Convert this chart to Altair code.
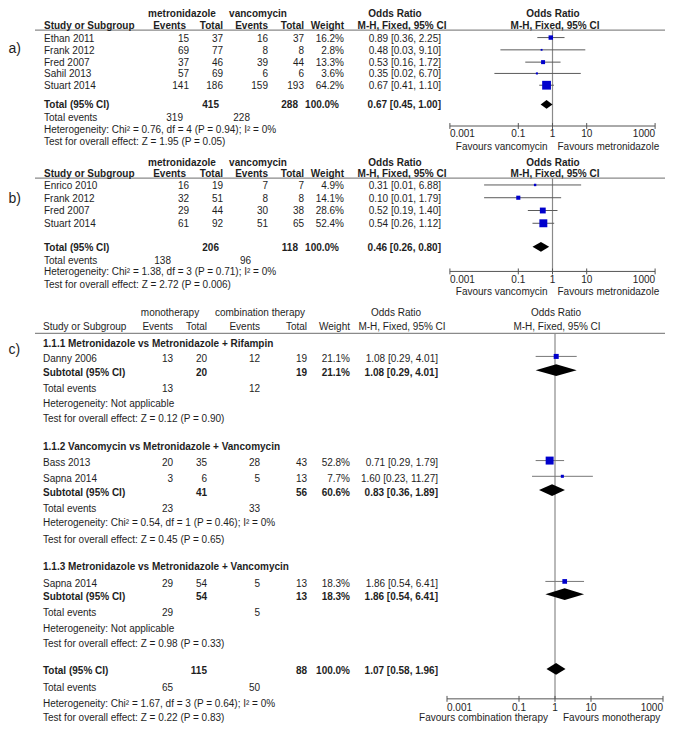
import altair as alt
import pandas as pd

# ---------------- data ----------------
# (a) metronidazole vs vancomycin
a_study = ["Ethan 2011", "Frank 2012", "Fred 2007", "Sahil 2013", "Stuart 2014"]
a_ev_m = [15, 69, 37, 57, 141]
a_n_m = [37, 77, 46, 69, 186]
a_ev_v = [16, 8, 39, 6, 159]
a_n_v = [37, 8, 44, 6, 193]
a_weight = [16.2, 2.8, 13.3, 3.6, 64.2]
a_or = [0.89, 0.48, 0.53, 0.35, 0.67]
a_lo = [0.36, 0.03, 0.16, 0.02, 0.41]
a_hi = [2.25, 9.10, 1.72, 6.70, 1.10]
a_total_n = [415, 288]
a_total_ev = [319, 228]
a_total_or = [0.67, 0.45, 1.00]
a_het = "Heterogeneity: Chi² = 0.76, df = 4 (P = 0.94); I² = 0%"
a_test = "Test for overall effect: Z = 1.95 (P = 0.05)"

# (b) metronidazole vs vancomycin
b_study = ["Enrico 2010", "Frank 2012", "Fred 2007", "Stuart 2014"]
b_ev_m = [16, 32, 29, 61]
b_n_m = [19, 51, 44, 92]
b_ev_v = [7, 8, 30, 51]
b_n_v = [7, 8, 38, 65]
b_weight = [4.9, 14.1, 28.6, 52.4]
b_or = [0.31, 0.10, 0.52, 0.54]
b_lo = [0.01, 0.01, 0.19, 0.26]
b_hi = [6.88, 1.79, 1.40, 1.12]
b_total_n = [206, 118]
b_total_ev = [138, 96]
b_total_or = [0.46, 0.26, 0.80]
b_het = "Heterogeneity: Chi² = 1.38, df = 3 (P = 0.71); I² = 0%"
b_test = "Test for overall effect: Z = 2.72 (P = 0.006)"

# (c) monotherapy vs combination therapy
c_groups = ["1.1.1 Metronidazole vs Metronidazole + Rifampin",
            "1.1.2 Vancomycin vs Metronidazole + Vancomycin",
            "1.1.3 Metronidazole vs Metronidazole + Vancomycin"]
c_study = [["Danny 2006"], ["Bass 2013", "Sapna 2014"], ["Sapna 2014"]]
c_ev_mono = [[13], [20, 3], [29]]
c_n_mono = [[20], [35, 6], [54]]
c_ev_comb = [[12], [28, 5], [5]]
c_n_comb = [[19], [43, 13], [13]]
c_weight = [[21.1], [52.8, 7.7], [18.3]]
c_or = [[1.08], [0.71, 1.60], [1.86]]
c_lo = [[0.29], [0.29, 0.23], [0.54]]
c_hi = [[4.01], [1.79, 11.27], [6.41]]
c_sub_n = [[20, 19], [41, 56], [54, 13]]
c_sub_w = [21.1, 60.6, 18.3]
c_sub_or = [[1.08, 0.29, 4.01], [0.83, 0.36, 1.89], [1.86, 0.54, 6.41]]
c_sub_ev = [[13, 12], [23, 33], [29, 5]]
c_sub_het = ["Heterogeneity: Not applicable",
             "Heterogeneity: Chi² = 0.54, df = 1 (P = 0.46); I² = 0%",
             "Heterogeneity: Not applicable"]
c_sub_test = ["Test for overall effect: Z = 0.12 (P = 0.90)",
              "Test for overall effect: Z = 0.45 (P = 0.65)",
              "Test for overall effect: Z = 0.98 (P = 0.33)"]
c_total_n = [115, 88]
c_total_ev = [65, 50]
c_total_or = [1.07, 0.58, 1.96]
c_het = "Heterogeneity: Chi² = 1.67, df = 3 (P = 0.64); I² = 0%"
c_test = "Test for overall effect: Z = 0.22 (P = 0.83)"

axis_ticks = [0.001, 0.1, 1, 10, 1000]
axis_labels = ["0.001", "0.1", "1", "10", "1000"]

# ---------------- layout / style ----------------
W, H = 657, 715
Y_SCALE = alt.Scale(domain=[0.91, 728.57], reverse=True, nice=False, zero=False)
X_PX = alt.Scale(domain=[8, 665], nice=False, zero=False)


def log_scale(one_px, decade_px):
    lo = (8 - one_px) / decade_px
    hi = (665 - one_px) / decade_px
    return alt.Scale(type="log", domain=[10 ** lo, 10 ** hi], nice=False)


X_AB = log_scale(552.5, 34.2)
X_C = log_scale(555.0, 36.0)

FONT_AB = "Liberation Sans, Arial, sans-serif"
FONT_C = "Liberation Sans, Arial, sans-serif"
TXT = "#1e1e1e"
BLUE = "#0000cc"
GREY = "#8a8a8a"
CI_COL = "#5a5a5a"

texts_px = []
texts_ab = []
texts_c = []


def put(store, x, y, text, align="left", bold=False, fam=FONT_AB, size=10, dx=0):
    store.append(dict(x=x, y=y, text=str(text), align=align, bold=bold,
                      fam=fam, size=size, dx=dx))


def fmt_or(v):
    return f"{v[0]:.2f} [{v[1]:.2f}, {v[2]:.2f}]"


rules_px = []       # header rules
studies_ab, diam_ab, vline_ab, axis_ab = [], [], [], []
studies_c, diam_c, vline_c, axis_c = [], [], [], []

COL_AB = dict(name=44, ev1=189, n1=223, ev2=268, n2=304, w=344, orr=441,
              g1=182, g2=258, or1=395, mh1=402, or2=553, mh2=555)
COL_C = dict(name=43, ev1=173, n1=207, ev2=260, n2=307, w=350, orr=438,
             g1=170, g2=260, or1=396, mh1=402, or2=556, mh2=557)


def panel_ab(tag, study, ev_m, n_m, ev_v, n_v, weight, orr, lo, hi,
             total_n, total_ev, total_or, het, test, L):
    c = COL_AB
    put(texts_px, 8.5, L["label"], tag, size=14)
    put(texts_px, c["g1"], L["h1"], "metronidazole", "center", True)
    put(texts_px, c["g2"], L["h1"], "vancomycin", "center", True)
    put(texts_px, c["or1"], L["h1"], "Odds Ratio", "center", True)
    put(texts_px, c["or2"], L["h1"], "Odds Ratio", "center", True)
    put(texts_px, c["name"], L["h2"], "Study or Subgroup", "left", True)
    put(texts_px, c["ev1"] - 3, L["h2"], "Events", "right", True)
    put(texts_px, c["n1"], L["h2"], "Total", "right", True)
    put(texts_px, c["ev2"], L["h2"], "Events", "right", True)
    put(texts_px, c["n2"], L["h2"], "Total", "right", True)
    put(texts_px, c["w"], L["h2"], "Weight", "right", True)
    put(texts_px, c["mh1"], L["h2"], "M-H, Fixed, 95% CI", "center", True)
    put(texts_px, c["mh2"], L["h2"], "M-H, Fixed, 95% CI", "center", True)
    rules_px.append(dict(x=35, x2=665, y=L["rule"]))
    for i, s in enumerate(study):
        y = L["rows"][i]
        put(texts_px, c["name"], y, s)
        put(texts_px, c["ev1"], y, ev_m[i], "right")
        put(texts_px, c["n1"], y, n_m[i], "right")
        put(texts_px, c["ev2"], y, ev_v[i], "right")
        put(texts_px, c["n2"], y, n_v[i], "right")
        put(texts_px, c["w"], y, f"{weight[i]:.1f}%", "right")
        put(texts_px, c["orr"], y, fmt_or([orr[i], lo[i], hi[i]]), "right")
        studies_ab.append(dict(y=y - 1, orr=orr[i], lo=lo[i], hi=hi[i], w=weight[i]))
    y = L["total"]
    put(texts_px, c["name"], y, "Total (95% CI)", "left", True)
    put(texts_px, c["n1"] - 4, y, total_n[0], "right", True)
    put(texts_px, c["n2"] - 6, y, total_n[1], "right", True)
    put(texts_px, c["w"] - 5, y, "100.0%", "right", True)
    put(texts_px, c["orr"], y, fmt_or(total_or), "right", True)
    h = L["dh"]
    yc = y - 1
    did = tag
    diam_ab.extend([
        dict(id=did, x=total_or[1], top=yc, bot=yc),
        dict(id=did, x=total_or[0], top=yc - h, bot=yc + h),
        dict(id=did, x=total_or[2], top=yc, bot=yc),
    ])
    put(texts_px, c["name"], L["tev"], "Total events")
    put(texts_px, L["tevx"][0], L["tev"], total_ev[0], "right")
    put(texts_px, L["tevx"][1], L["tev"], total_ev[1], "right")
    put(texts_px, c["name"], L["het"], het)
    put(texts_px, c["name"], L["test"], test)
    vline_ab.append(dict(one=1, y=L["rule"], y2=L["axis"]))
    axis_ab.append(dict(axis=L["axis"], lab=L["ticklab"], fav=L["fav"]))
    for t, lab in zip(axis_ticks, axis_labels):
        al = "left" if t == axis_ticks[0] else ("right" if t == axis_ticks[-1] else "center")
        put(texts_ab, t, L["ticklab"], lab, al)
    put(texts_ab, 1, L["fav"], "Favours vancomycin", "right", dx=-5)
    put(texts_ab, 1, L["fav"], "Favours metronidazole", "left", dx=5)


LA = dict(label=43, h1=7, h2=19.5, rule=23.5, rows=[32, 44.5, 57, 68.5, 80.5],
          total=100, tev=113, tevx=[183, 250], het=125, test=137, axis=121,
          ticklab=129, fav=142, dh=4.5)
LB = dict(label=195, h1=159, h2=170, rule=174, rows=[182, 195, 208, 221],
          total=245, tev=258, tevx=[171, 251], het=270, test=283, axis=269,
          ticklab=278, fav=290, dh=5)

panel_ab("a)", a_study, a_ev_m, a_n_m, a_ev_v, a_n_v, a_weight, a_or, a_lo, a_hi,
         a_total_n, a_total_ev, a_total_or, a_het, a_test, LA)
panel_ab("b)", b_study, b_ev_m, b_n_m, b_ev_v, b_n_v, b_weight, b_or, b_lo, b_hi,
         b_total_n, b_total_ev, b_total_or, b_het, b_test, LB)

# ---- panel c
LC = dict(label=349, h1=311, h2=326, rule=332, grp=[343, 448, 570],
          rows=[[358], [464, 480], [587]], sub=[372, 494, 600], tev=[389, 511, 617],
          het=[404, 525, 633], test=[419, 542, 648], total=676, ttev=693, thet=709,
          ttest=723, axis=704, ticklab=713, fav=723.5, dh=6)
cc = COL_C
FC = FONT_C
SC = 10
put(texts_px, 8.5, LC["label"], "c)", size=14)
put(texts_px, cc["g1"], LC["h1"], "monotherapy", "center", fam=FC, size=SC)
put(texts_px, cc["g2"], LC["h1"], "combination therapy", "center", fam=FC, size=SC)
put(texts_px, cc["or1"], LC["h1"], "Odds Ratio", "center", fam=FC, size=SC)
put(texts_px, cc["or2"], LC["h1"], "Odds Ratio", "center", fam=FC, size=SC)
put(texts_px, cc["name"], LC["h2"], "Study or Subgroup", fam=FC, size=SC)
put(texts_px, cc["ev1"], LC["h2"], "Events", "right", fam=FC, size=SC)
put(texts_px, cc["n1"], LC["h2"], "Total", "right", fam=FC, size=SC)
put(texts_px, cc["ev2"], LC["h2"], "Events", "right", fam=FC, size=SC)
put(texts_px, cc["n2"], LC["h2"], "Total", "right", fam=FC, size=SC)
put(texts_px, cc["w"], LC["h2"], "Weight", "right", fam=FC, size=SC)
put(texts_px, cc["mh1"], LC["h2"], "M-H, Fixed, 95% CI", "center", fam=FC, size=SC)
put(texts_px, cc["mh2"], LC["h2"], "M-H, Fixed, 95% CI", "center", fam=FC, size=SC)
rules_px.append(dict(x=35, x2=665, y=LC["rule"]))

for g, gname in enumerate(c_groups):
    put(texts_px, cc["name"], LC["grp"][g], gname, bold=True, fam=FC, size=SC)
    for i, s in enumerate(c_study[g]):
        y = LC["rows"][g][i]
        put(texts_px, cc["name"], y, s, fam=FC, size=SC)
        put(texts_px, cc["ev1"], y, c_ev_mono[g][i], "right", fam=FC, size=SC)
        put(texts_px, cc["n1"], y, c_n_mono[g][i], "right", fam=FC, size=SC)
        put(texts_px, cc["ev2"], y, c_ev_comb[g][i], "right", fam=FC, size=SC)
        put(texts_px, cc["n2"], y, c_n_comb[g][i], "right", fam=FC, size=SC)
        put(texts_px, cc["w"], y, f"{c_weight[g][i]:.1f}%", "right", fam=FC, size=SC)
        put(texts_px, cc["orr"], y, fmt_or([c_or[g][i], c_lo[g][i], c_hi[g][i]]), "right", fam=FC, size=SC)
        studies_c.append(dict(y=y - 2.5, orr=c_or[g][i], lo=c_lo[g][i], hi=c_hi[g][i], w=c_weight[g][i]))
    y = LC["sub"][g]
    put(texts_px, cc["name"], y, "Subtotal (95% CI)", bold=True, fam=FC, size=SC)
    put(texts_px, cc["n1"], y, c_sub_n[g][0], "right", True, fam=FC, size=SC)
    put(texts_px, cc["n2"], y, c_sub_n[g][1], "right", True, fam=FC, size=SC)
    put(texts_px, cc["w"], y, f"{c_sub_w[g]:.1f}%", "right", True, fam=FC, size=SC)
    put(texts_px, cc["orr"], y, fmt_or(c_sub_or[g]), "right", True, fam=FC, size=SC)
    yc = y - 2.5
    h = LC["dh"]
    diam_c.extend([
        dict(id=f"s{g}", x=c_sub_or[g][1], top=yc, bot=yc),
        dict(id=f"s{g}", x=c_sub_or[g][0], top=yc - h, bot=yc + h),
        dict(id=f"s{g}", x=c_sub_or[g][2], top=yc, bot=yc),
    ])
    put(texts_px, cc["name"], LC["tev"][g], "Total events", fam=FC, size=SC)
    put(texts_px, cc["ev1"], LC["tev"][g], c_sub_ev[g][0], "right", fam=FC, size=SC)
    put(texts_px, cc["ev2"], LC["tev"][g], c_sub_ev[g][1], "right", fam=FC, size=SC)
    put(texts_px, cc["name"], LC["het"][g], c_sub_het[g], fam=FC, size=SC)
    put(texts_px, cc["name"], LC["test"][g], c_sub_test[g], fam=FC, size=SC)

y = LC["total"]
put(texts_px, cc["name"], y, "Total (95% CI)", bold=True, fam=FC, size=SC)
put(texts_px, cc["n1"], y, c_total_n[0], "right", True, fam=FC, size=SC)
put(texts_px, cc["n2"], y, c_total_n[1], "right", True, fam=FC, size=SC)
put(texts_px, cc["w"], y, "100.0%", "right", True, fam=FC, size=SC)
put(texts_px, cc["orr"], y, fmt_or(c_total_or), "right", True, fam=FC, size=SC)
yc = y - 2.5
diam_c.extend([
    dict(id="t", x=c_total_or[1], top=yc, bot=yc),
    dict(id="t", x=c_total_or[0], top=yc - LC["dh"], bot=yc + LC["dh"]),
    dict(id="t", x=c_total_or[2], top=yc, bot=yc),
])
put(texts_px, cc["name"], LC["ttev"], "Total events", fam=FC, size=SC)
put(texts_px, cc["ev1"], LC["ttev"], c_total_ev[0], "right", fam=FC, size=SC)
put(texts_px, cc["ev2"], LC["ttev"], c_total_ev[1], "right", fam=FC, size=SC)
put(texts_px, cc["name"], LC["thet"], c_het, fam=FC, size=SC)
put(texts_px, cc["name"], LC["ttest"], c_test, fam=FC, size=SC)
vline_c.append(dict(one=1, y=LC["rule"], y2=LC["axis"]))
axis_c.append(dict(axis=LC["axis"], lab=LC["ticklab"], fav=LC["fav"]))
for t, lab in zip(axis_ticks, axis_labels):
    al = "left" if t == axis_ticks[0] else ("right" if t == axis_ticks[-1] else "center")
    put(texts_c, t, LC["ticklab"], lab, al, fam=FC, size=SC)
put(texts_c, 1, LC["fav"], "Favours combination therapy", "right", fam=FC, size=SC, dx=-7)
put(texts_c, 1, LC["fav"], "Favours monotherapy", "left", fam=FC, size=SC, dx=8)

# ---------------- layers ----------------
Y = lambda f: alt.Y(f, scale=Y_SCALE, axis=None)


def text_layers(items, xscale):
    df = pd.DataFrame(items)
    out = []
    for key, g in df.groupby(["align", "bold", "fam", "size", "dx"]):
        align, bold, fam, size, dx = key
        out.append(
            alt.Chart(g[["x", "y", "text"]]).mark_text(
                align=align, baseline="middle", font=fam, fontSize=float(size),
                fontWeight="bold" if bold else "normal", color=TXT, dx=float(dx)
            ).encode(x=alt.X("x:Q", scale=xscale, axis=None), y=Y("y:Q"), text="text:N")
        )
    return out


def forest_layers(xscale, studies, diamonds, vlines, axes, ci_color):
    sdf = pd.DataFrame(studies)
    ddf = pd.DataFrame(diamonds)
    vdf = pd.DataFrame(vlines)
    rows = []
    for a in axes:
        rows.append(dict(x=axis_ticks[0], x2=axis_ticks[-1], y=a["axis"], y2=a["axis"]))
        for t in axis_ticks:
            rows.append(dict(x=t, x2=t, y=a["axis"] - 3, y2=a["axis"] + 3))
    adf = pd.DataFrame(rows)
    X = lambda f: alt.X(f, scale=xscale, axis=None)
    return [
        alt.Chart(vdf).mark_rule(color=GREY, strokeWidth=1.2).encode(
            x=X("one:Q"), y=Y("y:Q"), y2="y2:Q"),
        alt.Chart(adf).mark_rule(color="#555555", strokeWidth=1).encode(
            x=X("x:Q"), x2="x2:Q", y=Y("y:Q"), y2="y2:Q"),
        alt.Chart(sdf).mark_rule(color=ci_color, strokeWidth=1).encode(
            x=X("lo:Q"), x2="hi:Q", y=Y("y:Q")),
        alt.Chart(sdf).mark_square(color=BLUE, opacity=1).encode(
            x=X("orr:Q"), y=Y("y:Q"),
            size=alt.Size("w:Q", scale=alt.Scale(domain=[0, 100], range=[0, 120]), legend=None)),
        alt.Chart(ddf).mark_area(color="black", orient="vertical", interpolate="linear").encode(
            x=X("x:Q"), y=Y("top:Q"), y2="bot:Q", detail="id:N"),
    ]


layers = []
layers.append(
    alt.Chart(pd.DataFrame(rules_px)).mark_rule(color=GREY, strokeWidth=1.2).encode(
        x=alt.X("x:Q", scale=X_PX, axis=None), x2="x2:Q", y=Y("y:Q"))
)
layers += forest_layers(X_AB, studies_ab, diam_ab, vline_ab, axis_ab, CI_COL)
layers += forest_layers(X_C, studies_c, diam_c, vline_c, axis_c, "#777777")
layers += text_layers(texts_px, X_PX)
layers += text_layers(texts_ab, X_AB)
layers += text_layers(texts_c, X_C)

chart = alt.layer(*layers).resolve_scale(x="independent").properties(
    width=W, height=H, padding=0,
    autosize=alt.AutoSizeParams(type="none"), background="white"
).configure_view(stroke=None)

chart.save("out.html", embed_options={"renderer": "svg", "actions": False})
